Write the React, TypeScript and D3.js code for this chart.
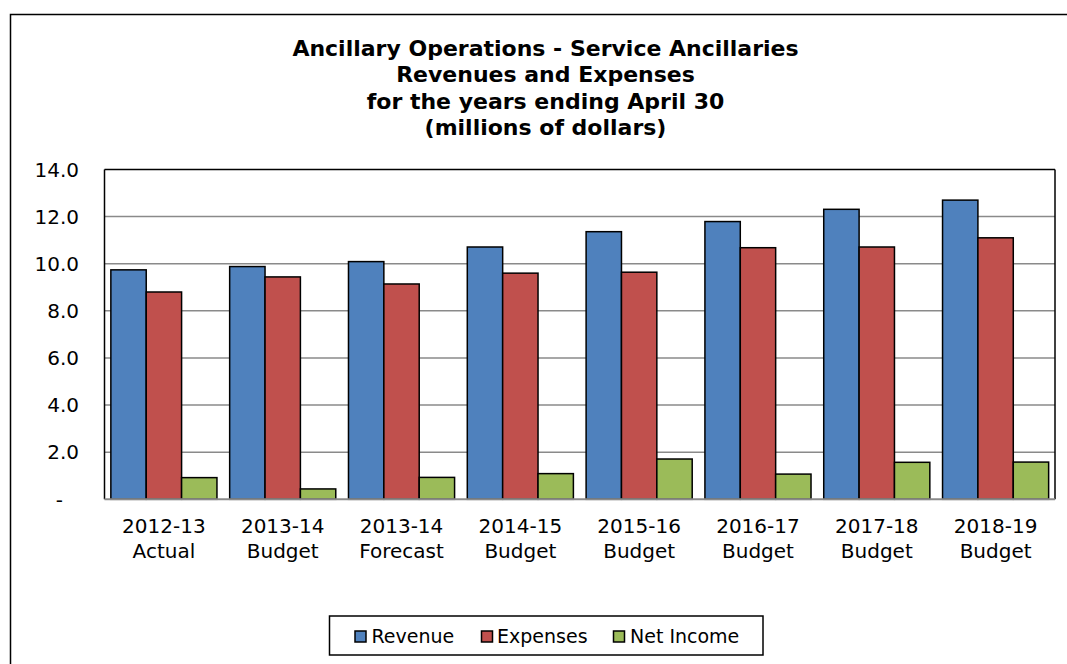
import React from "react";
import * as d3 from "d3";

const categoriesLine1 = ["2012-13", "2013-14", "2013-14", "2014-15", "2015-16", "2016-17", "2017-18", "2018-19"];
const categoriesLine2 = ["Actual", "Budget", "Forecast", "Budget", "Budget", "Budget", "Budget", "Budget"];
const revenue = [9.74, 9.88, 10.09, 10.71, 11.36, 11.79, 12.31, 12.70];
const expenses = [8.80, 9.44, 9.14, 9.60, 9.64, 10.68, 10.71, 11.10];
const netIncome = [0.92, 0.44, 0.93, 1.09, 1.71, 1.07, 1.57, 1.58];
const seriesNames = ["Revenue", "Expenses", "Net Income"];
const seriesColors = ["#4F81BD", "#C0504D", "#9BBB59"];
const yTicks = [0, 2, 4, 6, 8, 10, 12, 14];
const titleLines = [
  "Ancillary Operations - Service Ancillaries",
  "Revenues and Expenses",
  "for the years ending April 30",
  "(millions of dollars)",
];

const W = 1067;
const H = 664;
const plot = { left: 104.5, top: 169.5, right: 1055, bottom: 499.3 };
const FONT = "'DejaVu Sans', Verdana, sans-serif";

export default function App() {
  const series = [revenue, expenses, netIncome];
  const idx = categoriesLine1.map((_, i) => i);
  const x0 = d3.scaleBand<number>().domain(idx).range([plot.left, plot.right]).paddingInner(0.107).paddingOuter(0.0535);
  const x1 = d3.scaleBand<number>().domain([0, 1, 2]).range([0, x0.bandwidth()]);
  const y = d3.scaleLinear().domain([0, 14]).range([plot.bottom, plot.top]);
  const groupCenter = (i: number) => plot.left + (plot.right - plot.left) / categoriesLine1.length * (i + 0.5);
  const fmt = (v: number) => (v === 0 ? "-" : d3.format(".1f")(v));

  const legendItems = [
    { sq: 355, tx: 371.5 },
    { sq: 481.5, tx: 497 },
    { sq: 613.5, tx: 630 },
  ];

  return (
    <svg width={W} height={H} style={{ position: "absolute", left: 0, top: 0, background: "#fff" }} fontFamily={FONT}>
      <rect x={0} y={0} width={W} height={H} fill="#fff" />
      {/* outer chart border */}
      <rect x={10.5} y={14.5} width={1200} height={800} fill="none" stroke="#000" strokeWidth={1.5} />
      {/* title */}
      {titleLines.map((t, i) => (
        <text key={i} x={545.5} y={55.5 + i * 26.6} textAnchor="middle" fontWeight="bold" fontSize={22} fill="#000">
          {t}
        </text>
      ))}
      {/* gridlines */}
      {yTicks.filter((t) => t > 0 && t < 14).map((t) => (
        <line key={t} x1={plot.left} x2={plot.right} y1={y(t)} y2={y(t)} stroke="#8a8a8a" strokeWidth={1.5} />
      ))}
      {/* plot border */}
      <line x1={plot.left} x2={plot.right} y1={plot.top} y2={plot.top} stroke="#000" strokeWidth={1.5} />
      <line x1={plot.left} x2={plot.left} y1={plot.top} y2={plot.bottom} stroke="#000" strokeWidth={1.5} />
      <line x1={plot.right} x2={plot.right} y1={plot.top} y2={plot.bottom} stroke="#000" strokeWidth={1.5} />
      {/* bars */}
      {series.map((vals, s) =>
        vals.map((v, i) => (
          <rect
            key={`${s}-${i}`}
            x={(x0(i) as number) + (x1(s) as number)}
            y={y(v)}
            width={x1.bandwidth()}
            height={y(0) - y(v)}
            fill={seriesColors[s]}
            stroke="#000"
            strokeWidth={1.5}
          />
        ))
      )}
      {/* x axis line */}
      <line x1={plot.left} x2={plot.right} y1={plot.bottom} y2={plot.bottom} stroke="#8a8a8a" strokeWidth={2} />
      {/* y labels */}
      {yTicks.map((t) => (
        <text key={t} x={t === 0 ? 63 : 79} y={y(t) + 7.3} textAnchor="end" fontSize={20} fill="#000">
          {fmt(t)}
        </text>
      ))}
      {/* x labels */}
      {idx.map((i) => (
        <g key={i}>
          <text x={groupCenter(i)} y={533} textAnchor="middle" fontSize={20} fill="#000">
            {categoriesLine1[i]}
          </text>
          <text x={groupCenter(i)} y={557.5} textAnchor="middle" fontSize={20} fill="#000">
            {categoriesLine2[i]}
          </text>
        </g>
      ))}
      {/* legend */}
      <rect x={329.5} y={616} width={433.5} height={39} fill="#fff" stroke="#000" strokeWidth={1.5} />
      {legendItems.map((it, s) => (
        <g key={s}>
          <rect x={it.sq} y={631} width={11} height={11} fill={seriesColors[s]} stroke="#000" strokeWidth={1.5} />
          <text x={it.tx} y={642.5} fontSize={19} fill="#000">
            {seriesNames[s]}
          </text>
        </g>
      ))}
    </svg>
  );
}
